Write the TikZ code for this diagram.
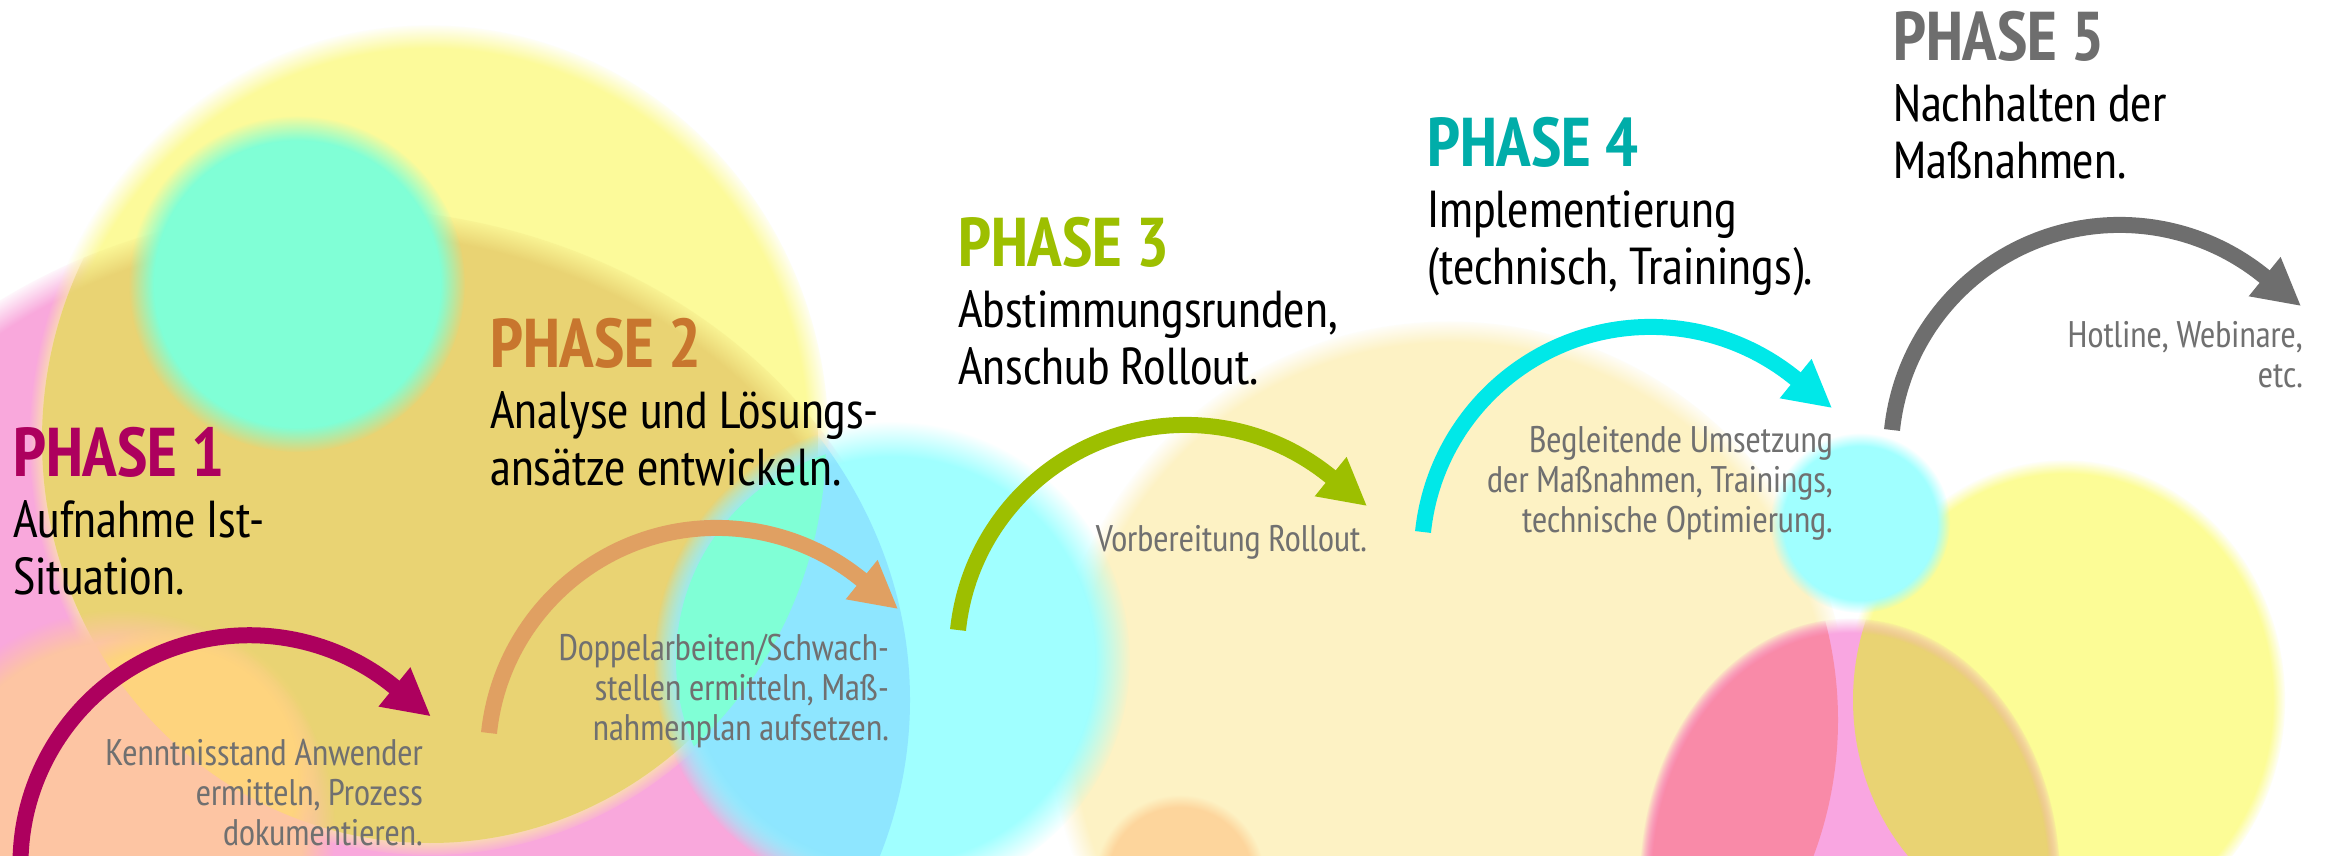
\documentclass[tikz,border=0pt]{standalone}
\usepackage{fontspec}
\IfFontExistsTF{PT Sans Narrow}{\setmainfont{PT Sans Narrow}}{\setmainfont{PT Sans}[FakeStretch=0.85]}
\usetikzlibrary{arrows.meta,fadings}

\definecolor{pinkL}{HTML}{F9A8DC}
\definecolor{yel}{HTML}{FCFA9A}
\definecolor{gold}{HTML}{E9D373}
\definecolor{mint}{HTML}{80FFD6}
\definecolor{cyanL}{HTML}{A0FFFF}
\definecolor{bluish}{HTML}{8EE6FF}
\definecolor{peach}{HTML}{FDC5A3}
\definecolor{orangeL}{HTML}{FED47E}
\definecolor{paleyel}{HTML}{FDF2C4}
\definecolor{redR}{HTML}{F98AA8}
\definecolor{pinkR}{HTML}{F9A6E1}
\definecolor{yelR}{HTML}{FCFC96}
\definecolor{smallor}{HTML}{FDD59C}
\definecolor{ph1}{HTML}{AD005E}
\definecolor{ph2}{HTML}{C8762E}
\definecolor{ph2a}{HTML}{E0A062}
\definecolor{ph3}{HTML}{9DBF00}
\definecolor{ph4}{HTML}{00ADA9}
\definecolor{ph4a}{HTML}{00E8E8}
\definecolor{ph5}{HTML}{6E6E6E}
\definecolor{notegray}{HTML}{707070}

\pgfdeclareradialshading{softedge}{\pgfpointorigin}{color(0bp)=(pgftransparent!0); color(23.5bp)=(pgftransparent!0); color(25bp)=(pgftransparent!100); color(50bp)=(pgftransparent!100)}
\pgfdeclarefading{soft}{\pgfuseshading{softedge}}

\tikzset{
  head/.style={font=\fontsize{69}{69}\selectfont\bfseries, inner sep=0pt, anchor=base west},
  sub/.style={font=\fontsize{52}{57}\selectfont, align=left, inner sep=0pt, anchor=base west},
  note/.style={font=\fontsize{37}{40}\selectfont, align=right, inner sep=0pt, anchor=base east, text=notegray},
  arr/.style={line width=16pt, -{Triangle[length=47pt, width=47pt]}},
  blob/.style={path fading=soft},
  fuzzy/.style={path fading=circle with fuzzy edge 15 percent},
}

\begin{document}
\begin{tikzpicture}[x=1pt, y=1pt]
\useasboundingbox (0,0) rectangle (2330,855);
\clip (0,0) rectangle (2330,855);
\fill[white] (0,0) rectangle (2330,855);

% background, right
\fill[paleyel, blob] (1450,135) circle[radius=400];
\fill[smallor, fuzzy] (1180,-25) circle[radius=85];
\fill[yelR, blob] (2065,155) ellipse[x radius=220, y radius=240];
\fill[pinkR, blob] (1850,-25) ellipse[x radius=210, y radius=262];
\begin{scope}
  \clip (1450,135) circle[radius=388];
  \fill[redR, blob] (1850,-25) ellipse[x radius=210, y radius=262];
\end{scope}
\begin{scope}
  \clip (2065,155) ellipse[x radius=212, y radius=232];
  \fill[gold, blob] (1850,-25) ellipse[x radius=210, y radius=262];
\end{scope}
\fill[cyanL, fuzzy] (1860,332) circle[radius=90];

% background, left
\fill[pinkL, blob] (340,155) ellipse[x radius=580, y radius=495];
\fill[yel, blob] (430,415) ellipse[x radius=400, y radius=415];
\begin{scope}
  \clip (430,415) ellipse[x radius=388, y radius=403];
  \fill[gold, blob] (340,155) ellipse[x radius=580, y radius=495];
\end{scope}
\fill[peach, fuzzy] (120,30) circle[radius=215];
\begin{scope}
  \clip (430,415) ellipse[x radius=388, y radius=403];
  \fill[orangeL, fuzzy] (170,80) circle[radius=150];
\end{scope}
\fill[mint, fuzzy] (297,571) circle[radius=168];
\fill[cyanL, fuzzy] (892,195) circle[radius=238];
\begin{scope}
  \clip (340,155) ellipse[x radius=570, y radius=485];
  \fill[bluish, fuzzy] (892,195) circle[radius=238];
\end{scope}
\begin{scope}
  \clip (892,195) circle[radius=216];
  \clip (430,415) ellipse[x radius=396, y radius=411];
  \fill[mint] (600,0) rectangle (900,500);
\end{scope}

% phase 1
\node[head, text=ph1] (11) at (13,378) {PHASE 1};
\node[sub] (12) at (13,260) {Aufnahme Ist-\\Situation.};
\node[note] (13) at (423,10) {Kenntnisstand Anwender\\ermitteln, Prozess\\dokumentieren.};
\coordinate (a1) at (24,-49);
\draw[arr, ph1] (a1) arc[start angle=190, end angle=51, radius=229] -- ++(-39:48);

% phase 2
\node[head, text=ph2] (21) at (490,487) {PHASE 2};
\node[sub] (22) at (490,369) {Analyse und Lösungs-\\ansätze entwickeln.};
\node[note] (23) at (889,115) {Doppelarbeiten/Schwach-\\stellen ermitteln, Maß-\\nahmenplan aufsetzen.};
\coordinate (a2) at (489,122);
\draw[arr, ph2a] (a2) arc[start angle=174, end angle=51, radius=229] -- ++(-39:48);

% phase 3
\node[head, text=ph3] (31) at (958,588) {PHASE 3};
\node[sub] (32) at (958,470) {Abstimmungsrunden,\\Anschub Rollout.};
\node[note] (33) at (1367,303) {Vorbereitung Rollout.};
\coordinate (a3) at (958,225);
\draw[arr, ph3] (a3) arc[start angle=174, end angle=51, radius=229] -- ++(-39:48);

% phase 4
\node[head, text=ph4] (41) at (1427,688) {PHASE 4};
\node[sub] (42) at (1427,570) {Implementierung\\(technisch, Trainings).};
\node[note] (43) at (1833,322) {Begleitende Umsetzung\\der Maßnahmen, Trainings,\\technische Optimierung.};
\coordinate (a4) at (1423,323);
\draw[arr, ph4a] (a4) arc[start angle=174, end angle=51, radius=229] -- ++(-39:48);

% phase 5
\node[head, text=ph5] (51) at (1893,794) {PHASE 5};
\node[sub] (52) at (1893,676) {Nachhalten der\\Maßnahmen.};
\node[note] (53) at (2303,467) {Hotline, Webinare,\\etc.};
\coordinate (a5) at (1892,425);
\draw[arr, ph5] (a5) arc[start angle=174, end angle=51, radius=229] -- ++(-39:48);

\end{tikzpicture}
\end{document}
